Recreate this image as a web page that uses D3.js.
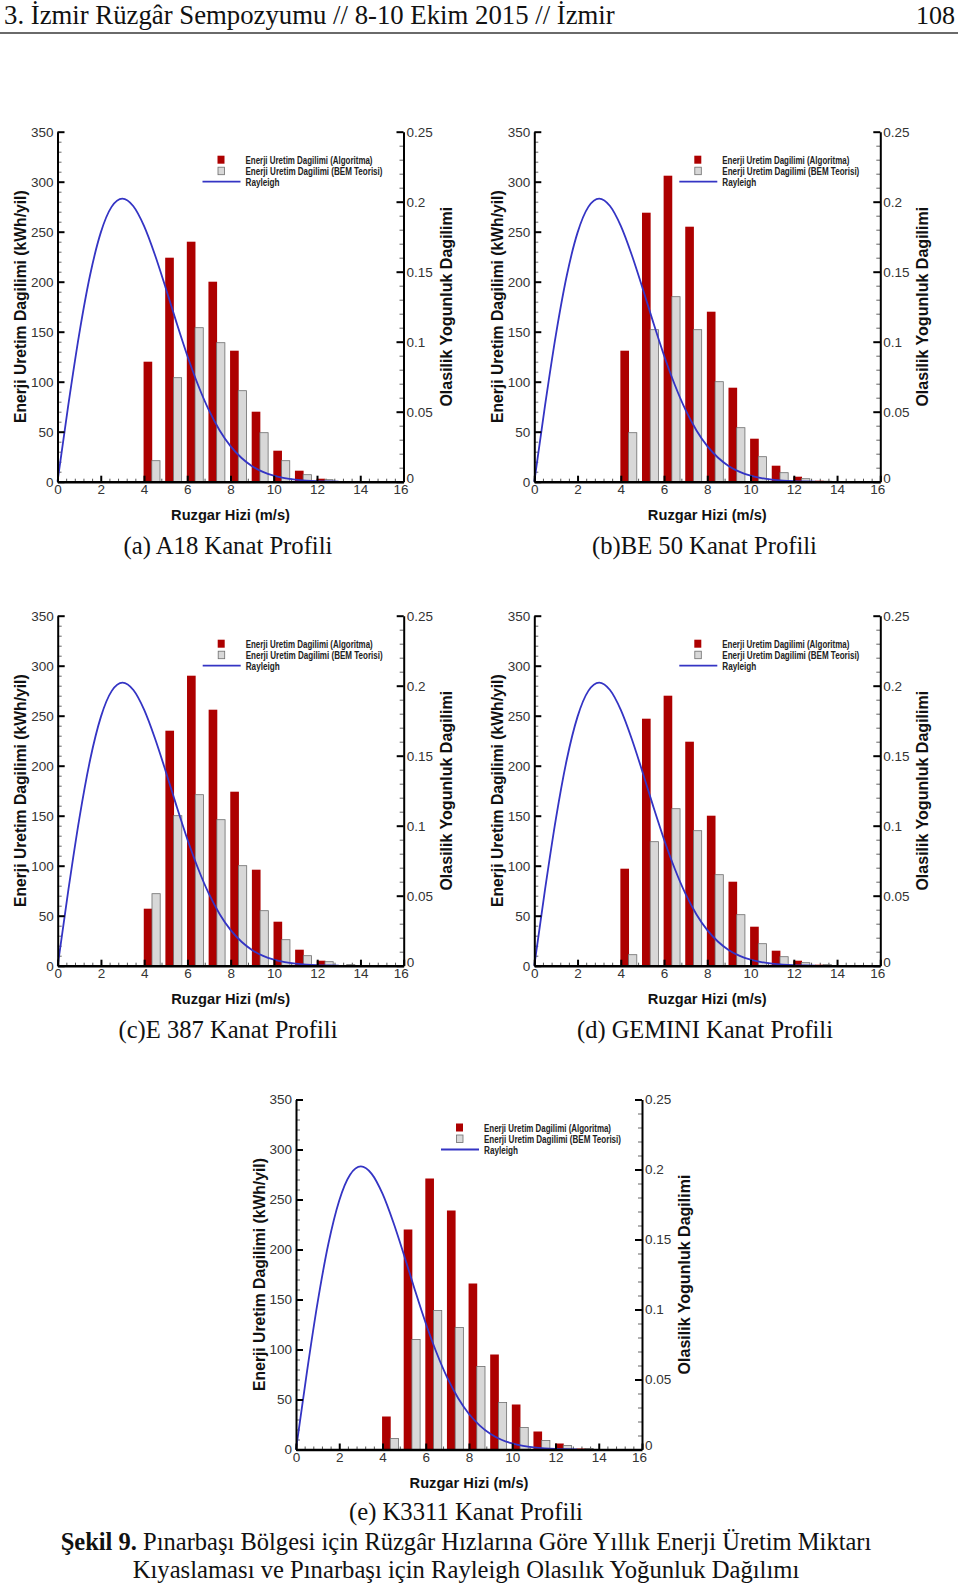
<!DOCTYPE html>
<html><head><meta charset="utf-8">
<script src="https://cdn.jsdelivr.net/npm/d3@7"></script>
<style>body{margin:0;background:#fff}svg{display:block}</style>
</head><body>
<svg id="c" width="960" height="1586"></svg>
<script>
// ---------- DATA ----------
const speeds = [4, 5, 6, 7, 8, 9, 10, 11, 12, 13];
const algoA18    = [120, 224, 240, 200, 131, 70, 31, 11, 3, 0];
const bemA18     = [21, 104, 154, 139, 91, 49, 21, 7, 2, 0];
const algoBE50   = [131, 269, 306, 255, 170, 94, 43, 16, 5, 1];
const bemBE50    = [49, 152, 185, 152, 100, 54, 25, 9, 3, 0.5];
const algoE387   = [57, 235, 290, 256, 174, 96, 44, 16, 5, 0.5];
const bemE387    = [72, 150, 171, 146, 100, 55, 26, 10, 4, 1];
const algoGEMINI = [97, 247, 270, 224, 150, 84, 39, 15, 5, 1];
const bemGEMINI  = [11, 124, 157, 135, 91, 51, 22, 9, 3, 1];
const algoK3311  = [33, 220, 271, 239, 166, 95, 45, 18, 6, 1];
const bemK3311   = [11, 110, 139, 122, 83, 47, 22, 9, 4, 1];

const rayleighSpeed   = [0, 0.5, 1, 1.5, 2, 2.5, 3, 3.5, 4, 4.5, 5, 5.5, 6, 6.5, 7, 7.5, 8, 8.5, 9, 9.5, 10, 10.5, 11, 11.5, 12, 12.5, 13];
const rayleighDensity = [0, 0.0548, 0.1051, 0.1471, 0.1779, 0.1963, 0.2022, 0.1969, 0.1827, 0.1623, 0.1386, 0.1138, 0.0902, 0.0691, 0.0511, 0.0366, 0.0254, 0.0171, 0.0111, 0.0070, 0.0043, 0.0026, 0.0015, 0.0008, 0.0004, 0.0002, 0.0001];

const xTicks = [0, 2, 4, 6, 8, 10, 12, 14, 16];
const xTickLabels = ["0", "2", "4", "6", "8", "10", "12", "14", "16"];
const yLeftTicks = [0, 50, 100, 150, 200, 250, 300, 350];
const yLeftTickLabels = ["0", "50", "100", "150", "200", "250", "300", "350"];
const yRightTicks = [0, 0.05, 0.1, 0.15, 0.2, 0.25];
const yRightTickLabels = ["0", "0.05", "0.1", "0.15", "0.2", "0.25"];

const legendLabels = ["Enerji Uretim Dagilimi (Algoritma)", "Enerji Uretim Dagilimi (BEM Teorisi)", "Rayleigh"];
const xTitle = "Ruzgar Hizi (m/s)";
const yLeftTitle = "Enerji Uretim Dagilimi (kWh/yil)";
const yRightTitle = "Olasilik Yogunluk Dagilimi";
const captions = ["(a) A18 Kanat Profili", "(b)BE 50 Kanat Profili", "(c)E 387 Kanat Profili", "(d) GEMINI Kanat Profili", "(e) K3311 Kanat Profili"];
const headerLeft = "3. İzmir Rüzgâr Sempozyumu // 8-10 Ekim 2015 // İzmir";
const headerRight = "108";
const figBold = "Şekil 9.";
const figLine1 = " Pınarbaşı Bölgesi için Rüzgâr Hızlarına Göre Yıllık Enerji Üretim Miktarı";
const figLine2 = "Kıyaslaması ve Pınarbaşı için Rayleigh Olasılık Yoğunluk Dağılımı";

const panelAlgo = [algoA18, algoBE50, algoE387, algoGEMINI, algoK3311];
const panelBem  = [bemA18, bemBE50, bemE387, bemGEMINI, bemK3311];

// ---------- LAYOUT ----------
const W = 346, H = 350;
const panelPos = [
  {x: 57.5, y: 131.7, cx: 228, cy: 554, cw: 209},
  {x: 534.3, y: 131.7, cx: 704.5, cy: 554, cw: 225},
  {x: 57.7, y: 615.7, cx: 228, cy: 1038, cw: 219},
  {x: 534.3, y: 615.7, cx: 705, cy: 1038, cw: 256},
  {x: 296, y: 1099.5, cx: 466, cy: 1520, cw: 234}
];
const RED = "#ad0000", GRAY = "#d8d8d8", BLUE = "#3434c4";

const svg = d3.select("#c");

function fit(sel, target) {
  const n = sel.node();
  const fs = parseFloat(sel.attr("font-size"));
  const len = n.getComputedTextLength();
  if (len > 0) sel.attr("font-size", (fs * target / len).toFixed(2));
}

// header
const hl = svg.append("text").attr("x", 4).attr("y", 24)
  .attr("font-family", "'Liberation Serif','Times New Roman',serif").attr("font-size", 26)
  .attr("fill", "#111").text(headerLeft);
fit(hl, 611);
const hr = svg.append("text").attr("x", 955).attr("y", 24).attr("text-anchor", "end")
  .attr("font-family", "'Liberation Serif','Times New Roman',serif").attr("font-size", 26)
  .attr("fill", "#111").text(headerRight);
fit(hr, 39);
svg.append("line").attr("x1", 0).attr("x2", 958).attr("y1", 33).attr("y2", 33)
  .attr("stroke", "#6a6a6a").attr("stroke-width", 2);

function drawPanel(i) {
  const p = panelPos[i];
  const g = svg.append("g").attr("transform", `translate(${p.x},${p.y})`);
  const x = d3.scaleLinear().domain([0, 16]).range([0, W]);
  const yL = d3.scaleLinear().domain([0, 350]).range([H, 0]);
  const yR = d3.scaleLinear().domain([0, 0.25]).range([H, 0]);
  const tickFont = "'Liberation Sans',Arial,sans-serif";

  // minor ticks
  const minorX = d3.range(0, 16.001, 0.4).filter(v => Math.abs(v / 2 - Math.round(v / 2)) > 0.01);
  g.append("g").attr("transform", `translate(0,${H})`)
    .call(d3.axisBottom(x).tickValues(minorX).tickSize(-3).tickSizeOuter(0).tickFormat(""))
    .call(a => a.select(".domain").remove())
    .call(a => a.selectAll("line").attr("stroke", "#555").attr("stroke-width", 1));
  const minorL = d3.range(0, 351, 10).filter(v => v % 50 !== 0);
  g.append("g")
    .call(d3.axisLeft(yL).tickValues(minorL).tickSize(-4).tickSizeOuter(0).tickFormat(""))
    .call(a => a.select(".domain").remove())
    .call(a => a.selectAll("line").attr("stroke", "#666").attr("stroke-width", 1));
  const minorR = d3.range(0, 0.2501, 0.01).filter(v => Math.abs(v / 0.05 - Math.round(v / 0.05)) > 0.01);
  g.append("g").attr("transform", `translate(${W},0)`)
    .call(d3.axisRight(yR).tickValues(minorR).tickSize(-4).tickSizeOuter(0).tickFormat(""))
    .call(a => a.select(".domain").remove())
    .call(a => a.selectAll("line").attr("stroke", "#666").attr("stroke-width", 1));

  // bars
  const algo = panelAlgo[i], bem = panelBem[i];
  const rows = speeds.map((v, k) => ({v, a: algo[k], b: bem[k]}));
  g.append("g").selectAll("rect").data(rows.filter(d => d.a > 0)).join("rect")
    .attr("x", d => x(d.v - 0.02)).attr("width", d => x(d.v + 0.38) - x(d.v - 0.02))
    .attr("y", d => yL(d.a)).attr("height", d => yL(0) - yL(d.a))
    .attr("fill", RED);
  g.append("g").selectAll("rect").data(rows.filter(d => d.b > 0)).join("rect")
    .attr("x", d => x(d.v + 0.36)).attr("width", d => x(d.v + 0.74) - x(d.v + 0.36))
    .attr("y", d => yL(d.b)).attr("height", d => yL(0) - yL(d.b))
    .attr("fill", GRAY).attr("stroke", "#6e6e6e").attr("stroke-width", 0.8);

  // rayleigh curve
  const pts = rayleighSpeed.map((v, k) => [v, rayleighDensity[k]]);
  g.append("path").datum(pts)
    .attr("d", d3.line().x(d => x(d[0])).y(d => yR(d[1])).curve(d3.curveMonotoneX))
    .attr("fill", "none").attr("stroke", BLUE).attr("stroke-width", 1.8);

  // major axes
  const styleAxis = (a, fsz) => {
    a.select(".domain").attr("stroke", "#000").attr("stroke-width", 2);
    a.selectAll(".tick line").attr("stroke", "#000").attr("stroke-width", 2);
    a.selectAll(".tick text").attr("font-family", tickFont).attr("font-size", fsz).attr("fill", "#333");
  };
  g.append("g").attr("transform", `translate(0,${H})`)
    .call(d3.axisBottom(x).tickValues(xTicks).tickSize(-6).tickSizeOuter(0).tickPadding(3)
      .tickFormat((d, k) => xTickLabels[k]))
    .call(a => styleAxis(a, 13.5))
    .call(a => a.select(".domain").attr("stroke-width", 2.4))
    .call(a => a.selectAll(".tick text").filter(d => d === 16).attr("dx", -3));
  g.append("g")
    .call(d3.axisLeft(yL).tickValues(yLeftTicks).tickSize(-7).tickSizeOuter(0).tickPadding(4)
      .tickFormat((d, k) => yLeftTickLabels[k]))
    .call(a => styleAxis(a, 13.5));
  g.append("g").attr("transform", `translate(${W},0)`)
    .call(d3.axisRight(yR).tickValues(yRightTicks).tickSize(-7).tickSizeOuter(0).tickPadding(3)
      .tickFormat((d, k) => yRightTickLabels[k]))
    .call(a => styleAxis(a, 13.5))
    .call(a => a.selectAll(".tick text").filter(d => d === 0).attr("y", -4));

  // axis titles
  const xt = g.append("text").attr("x", W / 2).attr("y", H + 38).attr("text-anchor", "middle")
    .attr("font-family", tickFont).attr("font-weight", "bold").attr("font-size", 15).attr("fill", "#111")
    .text(xTitle);
  fit(xt, 119);
  const lt = g.append("text").attr("transform", `translate(-37,${H / 2}) rotate(-90)`)
    .attr("text-anchor", "middle").attr("dominant-baseline", "central")
    .attr("font-family", tickFont).attr("font-weight", "bold").attr("font-size", 15.5).attr("fill", "#111")
    .text(yLeftTitle);
  fit(lt, 233);
  const rt = g.append("text").attr("transform", `translate(${W + 42},${H / 2}) rotate(-90)`)
    .attr("text-anchor", "middle").attr("dominant-baseline", "central")
    .attr("font-family", tickFont).attr("font-weight", "bold").attr("font-size", 15.5).attr("fill", "#111")
    .text(yRightTitle);
  fit(rt, 200);

  // legend
  const lg = g.append("g");
  lg.append("rect").attr("x", 160).attr("y", 24).attr("width", 7).attr("height", 8).attr("fill", RED);
  lg.append("rect").attr("x", 160.5).attr("y", 35.5).attr("width", 6.5).attr("height", 7.5)
    .attr("fill", GRAY).attr("stroke", "#6e6e6e").attr("stroke-width", 0.8);
  lg.append("line").attr("x1", 145).attr("x2", 183).attr("y1", 50).attr("y2", 50)
    .attr("stroke", BLUE).attr("stroke-width", 1.8);
  const lw = [127, 137, 34];
  legendLabels.forEach((t, k) => {
    lg.append("text").attr("x", 188).attr("y", 28 + 11 * k).attr("dominant-baseline", "central")
      .attr("font-family", tickFont).attr("font-weight", "bold").attr("font-size", 10.5).attr("fill", "#222")
      .attr("textLength", lw[k]).attr("lengthAdjust", "spacingAndGlyphs")
      .text(t);
  });

  // caption
  const c = svg.append("text").attr("x", p.cx).attr("y", p.cy).attr("text-anchor", "middle")
    .attr("font-family", "'Liberation Serif','Times New Roman',serif").attr("font-size", 24)
    .attr("fill", "#111").text(captions[i]);
  fit(c, p.cw);
}
for (let i = 0; i < 5; i++) drawPanel(i);

// figure caption
const f1 = svg.append("text").attr("x", 466).attr("y", 1550).attr("text-anchor", "middle")
  .attr("font-family", "'Liberation Serif','Times New Roman',serif").attr("font-size", 24).attr("fill", "#111");
f1.append("tspan").attr("font-weight", "bold").text(figBold);
f1.append("tspan").text(figLine1);
fit(f1, 811);
const f2 = svg.append("text").attr("x", 466).attr("y", 1578).attr("text-anchor", "middle")
  .attr("font-family", "'Liberation Serif','Times New Roman',serif").attr("font-size", 24).attr("fill", "#111")
  .text(figLine2);
fit(f2, 667);
</script>
</body></html>
